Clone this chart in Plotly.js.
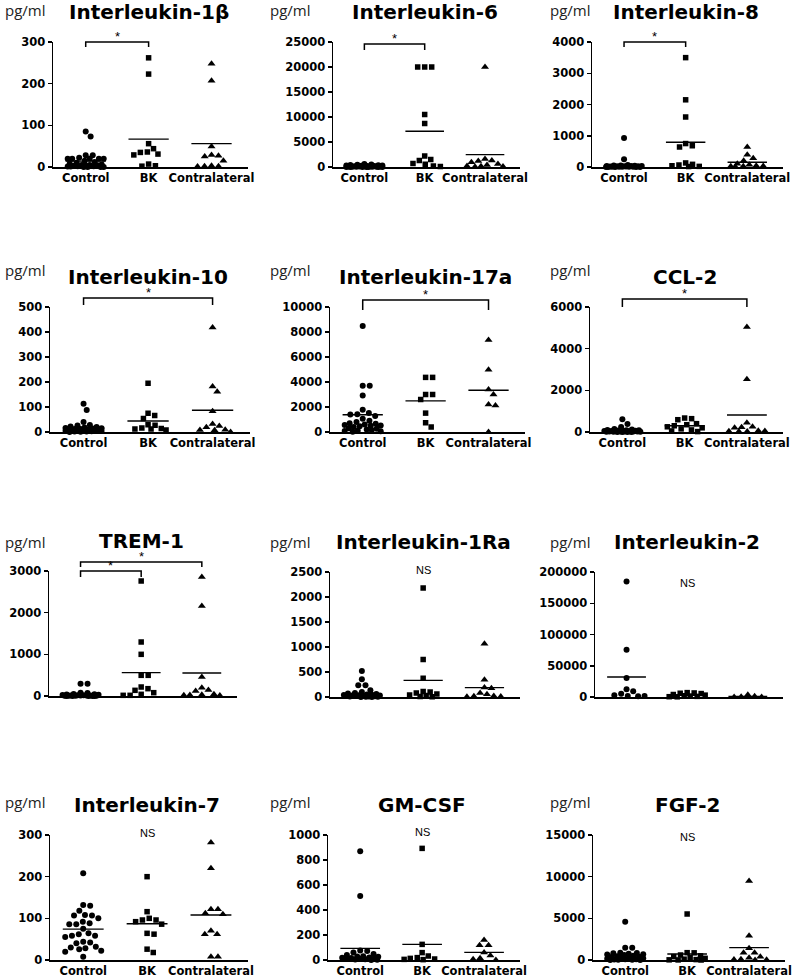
<!DOCTYPE html>
<html>
<head>
<meta charset="utf-8">
<script src="https://cdn.plot.ly/plotly-3.0.1.min.js"></script>
<style>
  html, body { margin: 0; padding: 0; background: #fff; }
  #chart { width: 795px; height: 979px; }
</style>
</head>
<body>
<div id="chart"></div>
<script>
var groups = ['Control', 'BK', 'Contralateral'];

// values in pg/ml
var il1bControl = [85, 73, 28, 28, 22, 20, 20, 20, 20, 20, 15, 12, 10, 8, 6, 5, 5, 4, 3, 3, 2, 2, 1, 1, 0, 0, 0, 0];
var il1bBK = [262, 223, 56, 44, 36, 35, 31, 29, 7, 3, 2];
var il1bContra = [248, 207, 49, 29, 27, 25, 15, 3, 2, 2, 1];
var il1bMeans = [14, 67, 56];

var il6Control = [600, 500, 450, 400, 350, 300, 300, 250, 200, 200, 150, 150, 100, 100, 100, 80, 60, 50, 40, 30, 20, 10, 10, 5, 0, 0, 0];
var il6BK = [20000, 20000, 20000, 10500, 8700, 2200, 1500, 1300, 700, 550, 200, 100];
var il6Contra = [20000, 1600, 1300, 1200, 950, 600, 400, 200, 150, 100, 50];
var il6Means = [200, 7140, 2470];

var il8Control = [930, 250, 60, 50, 45, 40, 35, 30, 30, 25, 20, 20, 15, 15, 10, 10, 8, 5, 5, 3, 2, 1, 0, 0];
var il8BK = [3500, 2150, 1600, 750, 680, 640, 130, 85, 64, 40, 20, 15];
var il8Contra = [640, 395, 277, 203, 107, 70, 40, 30, 25, 20, 10];
var il8Means = [60, 790, 150];

var il10Control = [113, 88, 40, 28, 26, 22, 20, 18, 16, 15, 14, 12, 12, 10, 10, 9, 8, 7, 6, 5, 5, 4, 3, 2, 2, 1, 0];
var il10BK = [195, 75, 66, 54, 29, 27, 16, 14, 12, 12, 8];
var il10Contra = [418, 182, 161, 83, 32, 24, 19, 9, 8, 7, 0];
var il10Means = [17, 44, 87];

var il17Control = [8480, 3710, 3710, 2915, 1780, 1510, 1420, 1400, 1270, 1060, 900, 800, 700, 650, 600, 560, 520, 500, 450, 400, 300, 260, 200, 150, 100, 80, 50, 20];
var il17BK = [4370, 4370, 3000, 3000, 2600, 1510, 740, 400];
var il17Contra = [7370, 4980, 3390, 2995, 2200, 2120, 0];
var il17Means = [1380, 2490, 3340];

var ccl2Control = [610, 380, 240, 150, 120, 100, 90, 80, 70, 60, 60, 50, 50, 40, 40, 30, 30, 25, 20, 20, 15, 10, 10, 5, 5, 0, 0];
var ccl2BK = [670, 640, 590, 400, 350, 300, 250, 200, 150, 100, 50, 20];
var ccl2Contra = [5040, 2530, 450, 250, 230, 200, 60, 50, 40, 30, 20];
var ccl2Means = [80, 300, 816];

var trem1Control = [296, 296, 80, 70, 50, 40, 35, 30, 25, 20, 20, 15, 15, 10, 10, 8, 5, 5, 5, 3, 2, 1, 0, 0];
var trem1BK = [2760, 1296, 1000, 496, 496, 216, 176, 136, 80, 40, 16, 16];
var trem1Contra = [2856, 2160, 456, 200, 144, 120, 40, 30, 25, 20, 15];
var trem1Means = [50, 560, 552];

var il1raControl = [520, 355, 235, 235, 135, 100, 80, 70, 60, 50, 45, 40, 35, 30, 30, 25, 20, 20, 15, 10, 10, 5, 5, 0, 0];
var il1raBK = [2180, 750, 375, 110, 100, 80, 60, 40, 30, 10, 5];
var il1raContra = [1067, 347, 190, 175, 80, 53, 20, 15, 10, 5];
var il1raMeans = [67, 333, 187];

var il2Control = [185000, 75500, 30500, 12500, 9000, 5300, 2700, 1500, 1000, 1500];
var il2BK = [7000, 6500, 6000, 5500, 4000, 3000, 2000, 1500, 1000, 500, 300];
var il2Contra = [3700, 1000, 300, 100, 50];
var il2Means = [32000, 2700, 1070];

var il7Control = [208, 132, 130, 118, 108, 107, 107, 100, 92, 88, 86, 86, 75, 64, 62, 58, 58, 55, 44, 42, 40, 32, 30, 28, 26, 22, 20, 8];
var il7BK = [200, 116, 100, 96, 96, 92, 86, 64, 62, 26, 18];
var il7Contra = [282, 220, 122, 122, 112, 110, 70, 62, 62, 8, 8];
var il7Means = [74, 87, 108];

var gmcsfControl = [870, 512, 75, 72, 60, 48, 40, 30, 27, 25, 20, 18, 15, 12, 10, 8, 5, 3, 2, 0];
var gmcsfBK = [893, 125, 59, 32, 19, 13, 8, 5, 3];
var gmcsfContra = [160, 117, 117, 59, 35, 13, 5, 0];
var gmcsfMeans = [93, 125, 61];

var fgf2Control = [4600, 1480, 1480, 880, 850, 800, 750, 700, 650, 600, 500, 450, 400, 350, 300, 250, 200, 150, 100, 100, 50, 30, 20, 10, 0];
var fgf2BK = [5520, 880, 860, 600, 500, 400, 300, 200, 100, 50, 20, 10, 0];
var fgf2Contra = [9480, 2920, 1400, 880, 880, 400, 280, 100, 50, 20, 0];
var fgf2Means = [480, 720, 1480];

var titles = ['Interleukin-1\u03b2', 'Interleukin-6', 'Interleukin-8',
              'Interleukin-10', 'Interleukin-17a', 'CCL-2',
              'TREM-1', 'Interleukin-1Ra', 'Interleukin-2',
              'Interleukin-7', 'GM-CSF', 'FGF-2'];
var yTops = [300, 25000, 4000, 500, 10000, 6000, 3000, 2500, 200000, 300, 1000, 15000];
var ySteps = [100, 5000, 1000, 100, 2000, 2000, 1000, 500, 50000, 100, 200, 5000];

var panelData = [
    [il1bControl, il1bBK, il1bContra, il1bMeans],
    [il6Control, il6BK, il6Contra, il6Means],
    [il8Control, il8BK, il8Contra, il8Means],
    [il10Control, il10BK, il10Contra, il10Means],
    [il17Control, il17BK, il17Contra, il17Means],
    [ccl2Control, ccl2BK, ccl2Contra, ccl2Means],
    [trem1Control, trem1BK, trem1Contra, trem1Means],
    [il1raControl, il1raBK, il1raContra, il1raMeans],
    [il2Control, il2BK, il2Contra, il2Means],
    [il7Control, il7BK, il7Contra, il7Means],
    [gmcsfControl, gmcsfBK, gmcsfContra, gmcsfMeans],
    [fgf2Control, fgf2BK, fgf2Contra, fgf2Means]
];

// plot boxes in page pixels: left, right, top, bottom
var boxes = [
    [53, 248, 42, 167], [333, 520, 42, 167], [592, 783, 42, 167],
    [50, 250, 307, 432], [330, 525, 307, 432], [590, 783, 307, 432],
    [49, 237, 571, 696], [330, 520, 572, 697], [595, 783, 572, 697],
    [50, 248, 835, 960], [328, 520, 835, 960], [593, 785, 835, 960]
];
var unitLeft = [3, 268, 548];
var unitY = [10, 270, 542, 802];

var W = 795, H = 979;
var xRange = [-0.52, 2.58];
var symbols = ['circle', 'square', 'triangle-up'];
var sizes = [6, 5.5, 7];

function px(x) { return x / W; }
function py(y) { return 1 - y / H; }

// dodge points sideways so they don't sit on top of each other (Prism-style scatter)
function swarm(values, pxPerY, pxPerX, idx) {
    var D = 7, cap = 18;
    var placed = [];
    var xs = [];
    values.forEach(function(v) {
        var y = v * pxPerY;
        var cands = [0];
        placed.forEach(function(p) {
            var dy = Math.abs(p.y - y);
            if (dy < D) {
                var dx = Math.sqrt(D * D - dy * dy);
                cands.push(p.x + dx + 0.01, p.x - dx - 0.01);
            }
        });
        function minDist(x) {
            var m = Infinity;
            placed.forEach(function(p) {
                var d = Math.sqrt((p.x - x) * (p.x - x) + (p.y - y) * (p.y - y));
                if (d < m) m = d;
            });
            return m;
        }
        var best = null;
        cands.filter(function(c) { return Math.abs(c) <= cap; })
            .sort(function(a, b) { return Math.abs(a) - Math.abs(b); })
            .some(function(c) {
                if (minDist(c) >= D - 0.05) { best = c; return true; }
                return false;
            });
        if (best === null) {
            var bestScore = -1;
            for (var c = -cap; c <= cap; c += 1) {
                var s = minDist(c);
                if (s > bestScore) { bestScore = s; best = c; }
            }
        }
        placed.push({ x: best, y: y });
        xs.push(idx + best / pxPerX);
    });
    return xs;
}

var traces = [];
var layout = {
    width: W, height: H,
    margin: { l: 0, r: 0, t: 0, b: 0 },
    paper_bgcolor: '#fff', plot_bgcolor: '#fff',
    showlegend: false,
    hovermode: false,
    annotations: [],
    shapes: []
};

var tickFont = { family: 'DejaVu Sans', size: 11.5, color: '#000', weight: 'bold' };

panelData.forEach(function(pd, p) {
    var n = p + 1;
    var sfx = n === 1 ? '' : String(n);
    var b = boxes[p];
    var pxPerY = (b[3] - b[2]) / yTops[p];
    var pxPerX = (b[1] - b[0]) / (xRange[1] - xRange[0]);
    var row = Math.floor(p / 3), col = p % 3;

    for (var g = 0; g < 3; g++) {
        traces.push({
            type: 'scatter', mode: 'markers',
            x: swarm(pd[g], pxPerY, pxPerX, g),
            y: pd[g],
            xaxis: 'x' + sfx, yaxis: 'y' + sfx,
            cliponaxis: false,
            marker: { symbol: symbols[g], size: sizes[g], color: '#000' }
        });
        traces.push({
            type: 'scatter', mode: 'lines',
            x: [g - 0.32, g + 0.32],
            y: [pd[3][g], pd[3][g]],
            xaxis: 'x' + sfx, yaxis: 'y' + sfx,
            cliponaxis: false,
            line: { color: '#000', width: 1.4 }
        });
    }

    var tv = [];
    for (var t = 0; t <= yTops[p]; t += ySteps[p]) tv.push(t);

    layout['xaxis' + sfx] = {
        domain: [px(b[0]), px(b[1])],
        anchor: 'y' + sfx,
        range: xRange,
        tickvals: [0, 1, 2],
        ticktext: groups,
        showticklabels: row !== 2,
        ticks: '',
        showline: true, linecolor: '#000', linewidth: 1.5,
        showgrid: false, zeroline: false,
        tickfont: tickFont,
        fixedrange: true
    };
    layout['yaxis' + sfx] = {
        domain: [py(b[3]), py(b[2])],
        anchor: 'x' + sfx,
        range: [0, yTops[p]],
        tickvals: tv,
        tickformat: 'd',
        ticks: 'outside', ticklen: 4, tickwidth: 1.5, tickcolor: '#000',
        showline: true, linecolor: '#000', linewidth: 1.5,
        showgrid: false, zeroline: false,
        tickfont: tickFont,
        fixedrange: true
    };

    // panel title, centred over the BK column
    var bkX = b[0] + (1 - xRange[0]) * pxPerX;
    layout.annotations.push({
        xref: 'paper', yref: 'paper', x: px(bkX), y: py(b[2] - 30),
        xanchor: 'center', yanchor: 'middle', showarrow: false,
        text: titles[p],
        font: { family: 'DejaVu Sans', size: 20, color: '#000', weight: 'bold' }
    });
    layout.annotations.push({
        xref: 'paper', yref: 'paper', x: px(unitLeft[col]), y: py(unitY[row]),
        xanchor: 'left', yanchor: 'middle', showarrow: false,
        text: 'pg/ml',
        font: { family: 'Open Sans', size: 15, color: '#222' }
    });
});

function catX(p, idx) {
    var b = boxes[p];
    return b[0] + (idx - xRange[0]) / (xRange[1] - xRange[0]) * (b[1] - b[0]);
}

// significance brackets: panel, from group, to group, y in px, drop in px
var brackets = [
    [0, 0, 1, 42, 5], [1, 0, 1, 44, 6], [2, 0, 1, 42, 5],
    [3, 0, 2, 298, 7], [4, 0, 2, 300, 10], [5, 0, 2, 299, 8],
    [6, 0, 2, 562, 5], [6, 0, 1, 571, 6]
];
brackets.forEach(function(br) {
    var x0 = catX(br[0], br[1]), x1 = catX(br[0], br[2]);
    var y = br[3], d = br[4];
    layout.shapes.push({
        type: 'path', xref: 'paper', yref: 'paper',
        path: 'M' + px(x0) + ',' + py(y + d) + ' L' + px(x0) + ',' + py(y) +
              ' L' + px(x1) + ',' + py(y) + ' L' + px(x1) + ',' + py(y + d),
        line: { color: '#000', width: 1.5 }
    });
    layout.annotations.push({
        xref: 'paper', yref: 'paper', x: px((x0 + x1) / 2), y: py(y + 4),
        xanchor: 'center', yanchor: 'bottom', showarrow: false,
        text: '*',
        font: { family: 'Liberation Sans', size: 13, color: '#000' }
    });
});

// "NS" labels: panel, y in px
var nsMarks = [[7, 570], [8, 583], [9, 833], [10, 832], [11, 837]];
nsMarks.forEach(function(m) {
    layout.annotations.push({
        xref: 'paper', yref: 'paper', x: px(catX(m[0], 1)), y: py(m[1]),
        xanchor: 'center', yanchor: 'middle', showarrow: false,
        text: 'NS',
        font: { family: 'Liberation Sans', size: 11, color: '#000' }
    });
});

Plotly.newPlot('chart', traces, layout, { displayModeBar: false, staticPlot: true });
</script>
</body>
</html>
